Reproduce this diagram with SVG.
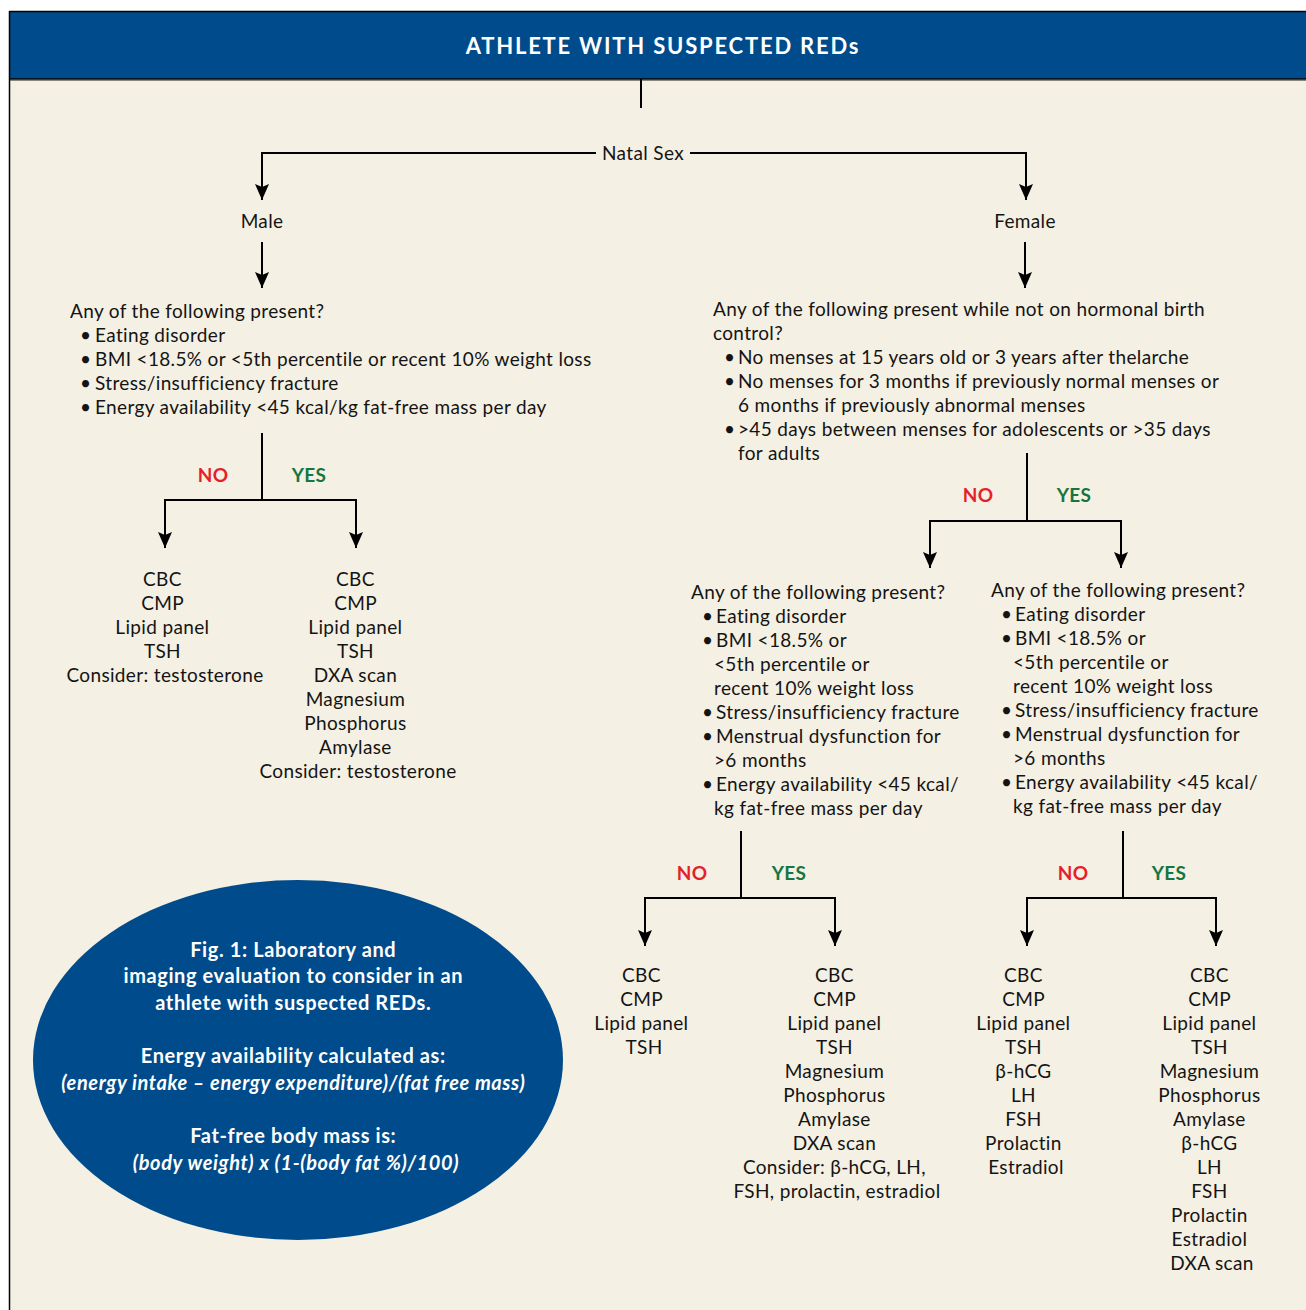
<svg xmlns="http://www.w3.org/2000/svg" width="1306" height="1310" viewBox="0 0 1306 1310">
<style>
.t{font-family:Lato,"Open Sans","Liberation Sans",sans-serif;font-size:19px;letter-spacing:0.35px;fill:#141414}
.c{text-anchor:middle}
.no{font-family:Lato,"Liberation Sans",sans-serif;font-size:19px;font-weight:bold;letter-spacing:0.3px;fill:#E5202A;text-anchor:middle}
.yes{font-family:Lato,"Liberation Sans",sans-serif;font-size:19px;font-weight:bold;letter-spacing:0.3px;fill:#17763F;text-anchor:middle}
.w{font-family:Lato,"Open Sans","Liberation Sans",sans-serif;font-size:20px;font-weight:bold;letter-spacing:0.6px;fill:#ffffff;text-anchor:middle}
.wi{font-style:italic}
.ttl{font-size:22px;letter-spacing:1.8px}
.ln{fill:none;stroke:#000;stroke-width:2}
.ar{fill:none;stroke:#000;stroke-width:2;marker-end:url(#ah)}
</style>
<defs>
<marker id="ah" viewBox="0 0 16 14" refX="16" refY="7" markerWidth="16" markerHeight="14" markerUnits="userSpaceOnUse" orient="auto">
<path d="M0,0 L16,7 L0,14 L3,7 Z" fill="#000"/>
</marker>
</defs>
<rect x="0" y="0" width="1306" height="1310" fill="#ffffff"/>
<rect x="9.5" y="79" width="1297" height="1231" fill="#F4F0E3"/>
<g id="header">
<rect x="9.5" y="11.5" width="1297" height="67.5" fill="#004B8B"/>
<line x1="9.5" y1="11.5" x2="1306" y2="11.5" stroke="#000" stroke-width="1.5"/>
<line x1="9.5" y1="79" x2="1306" y2="79" stroke="#000" stroke-width="1.5"/>
<line x1="9.5" y1="80.5" x2="1306" y2="80.5" stroke="#8a8578" stroke-width="1"/>
<line x1="9.5" y1="11" x2="9.5" y2="1310" stroke="#000" stroke-width="1.5"/>
<text class="w ttl" x="663" y="54">ATHLETE WITH SUSPECTED REDs</text>
</g>
<g id="connectors">
<path class="ln" d="M641,79 V108"/>
<path class="ar" d="M596,153 H262 V200"/>
<path class="ar" d="M690,153 H1026 V200"/>
<path class="ar" d="M262,242 V288"/>
<path class="ar" d="M1025,242 V288"/>
<path class="ln" d="M262,433 V500"/>
<path class="ar" d="M262,500 H165 V548"/>
<path class="ar" d="M262,500 H356 V548"/>
<path class="ln" d="M1027,453 V521"/>
<path class="ar" d="M1027,521 H930 V568"/>
<path class="ar" d="M1027,521 H1121 V568"/>
<path class="ln" d="M741,831 V898"/>
<path class="ar" d="M741,898 H645 V946"/>
<path class="ar" d="M741,898 H835 V946"/>
<path class="ln" d="M1123,831 V898"/>
<path class="ar" d="M1123,898 H1027 V946"/>
<path class="ar" d="M1123,898 H1216 V946"/>
</g>
<g id="natal-sex"><text class="t c" x="643" y="160">Natal Sex</text></g>
<g id="male"><text class="t c" x="262" y="228">Male</text></g>
<g id="female"><text class="t c" x="1025" y="228">Female</text></g>
<g id="male-question">
<text class="t">
<tspan x="70" y="318">Any of the following present?</tspan>
<tspan x="80" y="342">•</tspan><tspan x="95" y="342">Eating disorder</tspan>
<tspan x="80" y="366">•</tspan><tspan x="95" y="366">BMI &lt;18.5% or &lt;5th percentile or recent 10% weight loss</tspan>
<tspan x="80" y="390">•</tspan><tspan x="95" y="390">Stress/insufficiency fracture</tspan>
<tspan x="80" y="414">•</tspan><tspan x="95" y="414">Energy availability &lt;45 kcal/kg fat-free mass per day</tspan>
</text>
</g>
<g id="male-labels">
<text class="no" x="213" y="482">NO</text>
<text class="yes" x="309" y="482">YES</text>
</g>
<g id="male-no">
<text class="t c">
<tspan x="165" y="586">CBC</tspan>
<tspan x="165" y="610">CMP</tspan>
<tspan x="165" y="634">Lipid panel</tspan>
<tspan x="165" y="658">TSH</tspan>
<tspan x="165" y="682">Consider: testosterone</tspan>
</text>
</g>
<g id="male-yes">
<text class="t c">
<tspan x="358" y="586">CBC</tspan>
<tspan x="358" y="610">CMP</tspan>
<tspan x="358" y="634">Lipid panel</tspan>
<tspan x="358" y="658">TSH</tspan>
<tspan x="358" y="682">DXA scan</tspan>
<tspan x="358" y="706">Magnesium</tspan>
<tspan x="358" y="730">Phosphorus</tspan>
<tspan x="358" y="754">Amylase</tspan>
<tspan x="358" y="778">Consider: testosterone</tspan>
</text>
</g>
<g id="female-question">
<text class="t">
<tspan x="713" y="316">Any of the following present while not on hormonal birth</tspan>
<tspan x="713" y="340">control?</tspan>
<tspan x="724" y="364">•</tspan><tspan x="738" y="364">No menses at 15 years old or 3 years after thelarche</tspan>
<tspan x="724" y="388">•</tspan><tspan x="738" y="388">No menses for 3 months if previously normal menses or</tspan>
<tspan x="738" y="412">6 months if previously abnormal menses</tspan>
<tspan x="724" y="436">•</tspan><tspan x="738" y="436">&gt;45 days between menses for adolescents or &gt;35 days</tspan>
<tspan x="738" y="460">for adults</tspan>
</text>
</g>
<g id="female-labels">
<text class="no" x="978" y="502">NO</text>
<text class="yes" x="1074" y="502">YES</text>
</g>
<g id="female-no-question">
<text class="t">
<tspan x="691" y="599">Any of the following present?</tspan>
<tspan x="702" y="623">•</tspan><tspan x="716" y="623">Eating disorder</tspan>
<tspan x="702" y="647">•</tspan><tspan x="716" y="647">BMI &lt;18.5% or</tspan>
<tspan x="714" y="671">&lt;5th percentile or</tspan>
<tspan x="714" y="695">recent 10% weight loss</tspan>
<tspan x="702" y="719">•</tspan><tspan x="716" y="719">Stress/insufficiency fracture</tspan>
<tspan x="702" y="743">•</tspan><tspan x="716" y="743">Menstrual dysfunction for</tspan>
<tspan x="714" y="767">&gt;6 months</tspan>
<tspan x="702" y="791">•</tspan><tspan x="716" y="791">Energy availability &lt;45 kcal/</tspan>
<tspan x="714" y="815">kg fat-free mass per day</tspan>
</text>
</g>
<g id="female-yes-question">
<text class="t">
<tspan x="991" y="597">Any of the following present?</tspan>
<tspan x="1001" y="621">•</tspan><tspan x="1015" y="621">Eating disorder</tspan>
<tspan x="1001" y="645">•</tspan><tspan x="1015" y="645">BMI &lt;18.5% or</tspan>
<tspan x="1013" y="669">&lt;5th percentile or</tspan>
<tspan x="1013" y="693">recent 10% weight loss</tspan>
<tspan x="1001" y="717">•</tspan><tspan x="1015" y="717">Stress/insufficiency fracture</tspan>
<tspan x="1001" y="741">•</tspan><tspan x="1015" y="741">Menstrual dysfunction for</tspan>
<tspan x="1013" y="765">&gt;6 months</tspan>
<tspan x="1001" y="789">•</tspan><tspan x="1015" y="789">Energy availability &lt;45 kcal/</tspan>
<tspan x="1013" y="813">kg fat-free mass per day</tspan>
</text>
</g>
<g id="mid-labels">
<text class="no" x="692" y="880">NO</text>
<text class="yes" x="789" y="880">YES</text>
<text class="no" x="1073" y="880">NO</text>
<text class="yes" x="1169" y="880">YES</text>
</g>
<g id="leaf-fn-no">
<text class="t c">
<tspan x="644" y="982">CBC</tspan>
<tspan x="644" y="1006">CMP</tspan>
<tspan x="644" y="1030">Lipid panel</tspan>
<tspan x="644" y="1054">TSH</tspan>
</text>
</g>
<g id="leaf-fn-yes">
<text class="t c">
<tspan x="837" y="982">CBC</tspan>
<tspan x="837" y="1006">CMP</tspan>
<tspan x="837" y="1030">Lipid panel</tspan>
<tspan x="837" y="1054">TSH</tspan>
<tspan x="837" y="1078">Magnesium</tspan>
<tspan x="837" y="1102">Phosphorus</tspan>
<tspan x="837" y="1126">Amylase</tspan>
<tspan x="837" y="1150">DXA scan</tspan>
<tspan x="837" y="1174">Consider: β-hCG, LH,</tspan>
<tspan x="837" y="1198">FSH, prolactin, estradiol</tspan>
</text>
</g>
<g id="leaf-fy-no">
<text class="t c">
<tspan x="1026" y="982">CBC</tspan>
<tspan x="1026" y="1006">CMP</tspan>
<tspan x="1026" y="1030">Lipid panel</tspan>
<tspan x="1026" y="1054">TSH</tspan>
<tspan x="1026" y="1078">β-hCG</tspan>
<tspan x="1026" y="1102">LH</tspan>
<tspan x="1026" y="1126">FSH</tspan>
<tspan x="1026" y="1150">Prolactin</tspan>
<tspan x="1026" y="1174">Estradiol</tspan>
</text>
</g>
<g id="leaf-fy-yes">
<text class="t c">
<tspan x="1212" y="982">CBC</tspan>
<tspan x="1212" y="1006">CMP</tspan>
<tspan x="1212" y="1030">Lipid panel</tspan>
<tspan x="1212" y="1054">TSH</tspan>
<tspan x="1212" y="1078">Magnesium</tspan>
<tspan x="1212" y="1102">Phosphorus</tspan>
<tspan x="1212" y="1126">Amylase</tspan>
<tspan x="1212" y="1150">β-hCG</tspan>
<tspan x="1212" y="1174">LH</tspan>
<tspan x="1212" y="1198">FSH</tspan>
<tspan x="1212" y="1222">Prolactin</tspan>
<tspan x="1212" y="1246">Estradiol</tspan>
<tspan x="1212" y="1270">DXA scan</tspan>
</text>
</g>
<g id="legend">
<ellipse cx="298" cy="1060" rx="265" ry="180" fill="#004B8B"/>
<text class="w">
<tspan x="296" y="957">Fig. 1: Laboratory and</tspan>
<tspan x="296" y="983">imaging evaluation to consider in an</tspan>
<tspan x="296" y="1010">athlete with suspected REDs.</tspan>
<tspan x="296" y="1063">Energy availability calculated as:</tspan>
<tspan x="296" y="1090" class="wi">(energy intake – energy expenditure)/(fat free mass)</tspan>
<tspan x="296" y="1143">Fat-free body mass is:</tspan>
<tspan x="296" y="1170" class="wi">(body weight) x (1-(body fat %)/100)</tspan>
</text>
</g>
</svg>
